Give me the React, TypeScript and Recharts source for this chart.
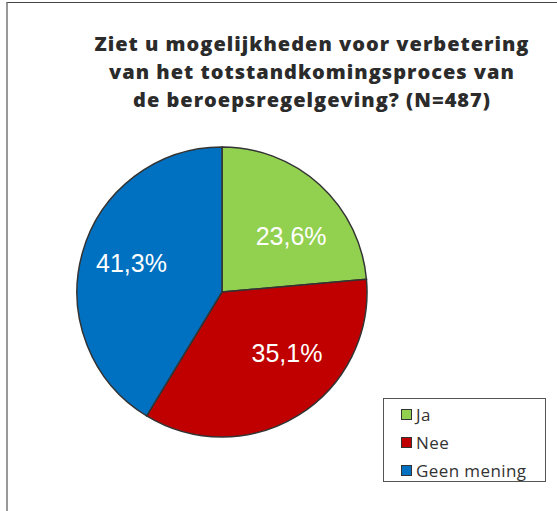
import { PieChart, Pie, Cell, Legend } from "recharts";

const categories = ["Ja", "Nee", "Geen mening"];
const shares = [23.6, 35.1, 41.3];
const titleLines = [
  "Ziet u mogelijkheden voor verbetering",
  "van het totstandkomingsproces van",
  "de beroepsregelgeving? (N=487)",
];

const colors = ["#92D050", "#C00000", "#0070C0"];
// Excel nudges the labels a bit off the slice middle
const labelShift = [-8.5, 15, -2];

const pieData = categories.map((name, i) => ({ name, value: shares[i] }));

const RADIAN = Math.PI / 180;

const renderLabel = (props: any) => {
  const { cx, cy, midAngle, index } = props;
  const angle = (midAngle + labelShift[index]) * RADIAN;
  const r = index === 2 ? 95 : 89;
  const x = cx + r * Math.cos(angle);
  const y = cy - r * Math.sin(angle);
  return (
    <text
      x={x}
      y={y}
      fill="#fff"
      textAnchor="middle"
      dominantBaseline="central"
      fontFamily="'Liberation Sans', Arial, sans-serif"
      fontSize={25}
    >
      {shares[index].toFixed(1).replace(".", ",") + "%"}
    </text>
  );
};

const LegendBox = () => (
  <div
    style={{
      width: 163,
      height: 84,
      border: "1px solid #555",
      background: "#fff",
      boxSizing: "border-box",
      paddingTop: 1,
      fontFamily: "'Open Sans', sans-serif",
      fontSize: 17,
      letterSpacing: 0.4,
      color: "#333",
    }}
  >
    {categories.map((c, i) => (
      <div
        key={c}
        style={{ display: "flex", alignItems: "center", height: 28, paddingLeft: 17 }}
      >
        <span
          style={{
            width: 11,
            height: 11,
            background: colors[i],
            border: "1.5px solid #333",
            boxSizing: "border-box",
            marginRight: 4,
          }}
        />
        <span>{c}</span>
      </div>
    ))}
  </div>
);

const App = () => {
  return (
    <div style={{ position: "absolute", left: 0, top: 0, width: 557, height: 511, overflow: "hidden", background: "#fff" }}>
      <div
        style={{
          position: "absolute",
          left: 6,
          top: 2,
          width: 700,
          height: 700,
          borderLeft: "2px solid #999",
          borderTop: "1px solid #444",
        }}
      />
      <div
        style={{
          position: "absolute",
          left: 62,
          top: 30,
          width: 500,
          textAlign: "center",
          fontFamily: "'Open Sans', sans-serif",
          fontWeight: 800,
          fontSize: 20,
          letterSpacing: 1,
          lineHeight: "28px",
          color: "#2b2b2b",
        }}
      >
        {titleLines.map((t) => (
          <div key={t}>{t}</div>
        ))}
      </div>
      <div style={{ position: "absolute", left: 0, top: 0 }}>
        <PieChart width={557} height={511} margin={{ top: 0, right: 0, bottom: 0, left: 0 }}>
          <Pie
            data={pieData}
            dataKey="value"
            nameKey="name"
            cx={222}
            cy={292}
            outerRadius={145}
            startAngle={90}
            endAngle={-270}
            stroke="#333"
            strokeWidth={1.5}
            label={renderLabel}
            labelLine={false}
            isAnimationActive={false}
          >
            {pieData.map((d, i) => (
              <Cell key={d.name} fill={colors[i]} />
            ))}
          </Pie>
          <Legend
            layout="vertical"
            content={() => <LegendBox />}
            wrapperStyle={{ left: 383, top: 398, width: 163 }}
          />
        </PieChart>
      </div>
    </div>
  );
};

export default App;
